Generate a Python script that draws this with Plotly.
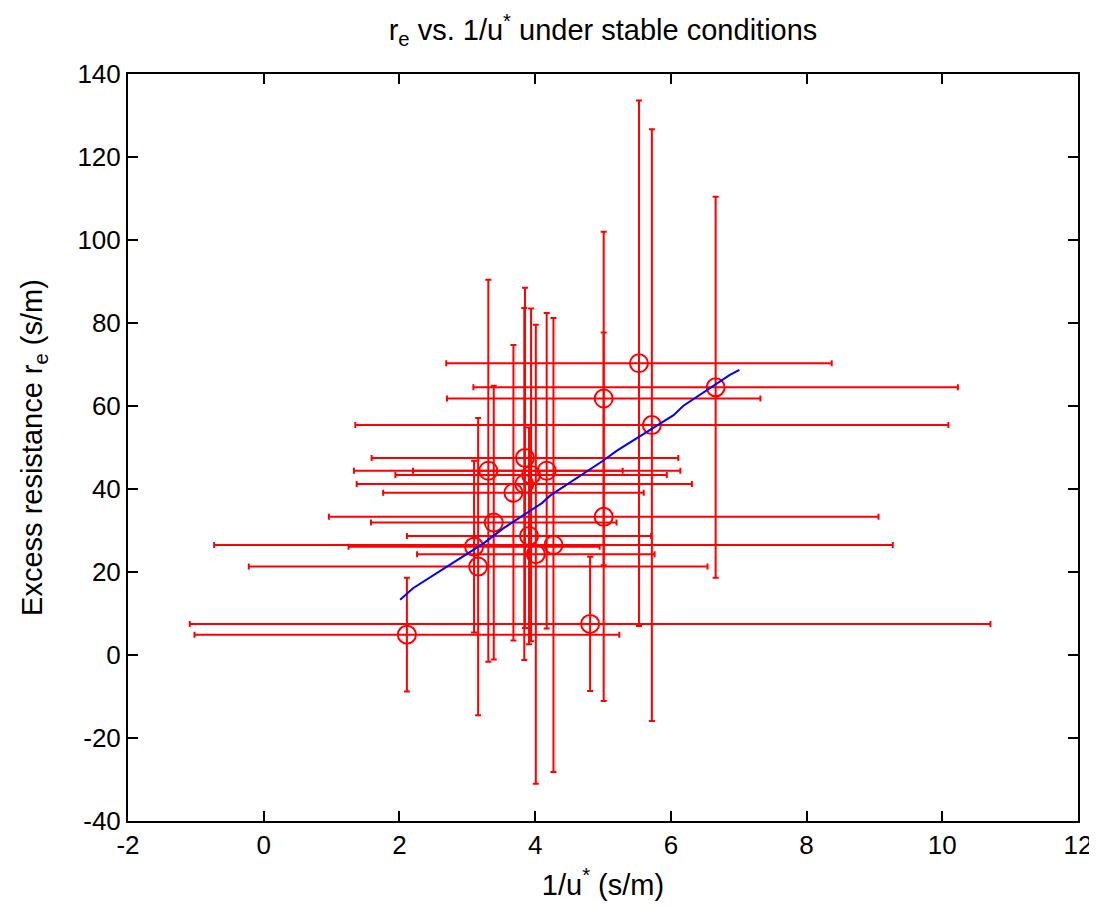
import plotly.graph_objects as go

# Data
inv_ustar = [5.53, 6.66, 5.01, 5.72, 3.85, 3.31, 4.17, 3.94, 3.84, 3.68,
             5.01, 3.39, 3.91, 4.27, 3.10, 4.01, 3.16, 4.81, 2.11]
r_e = [70.3, 64.5, 61.8, 55.4, 47.5, 44.4, 44.4, 43.4, 41.2, 39.1,
       33.3, 31.9, 28.7, 26.5, 26.1, 24.3, 21.3, 7.5, 4.9]
inv_ustar_err = [2.84, 3.57, 2.31, 4.37, 2.26, 1.98, 1.97, 2.00, 2.47, 1.92,
                 4.05, 1.81, 1.80, 5.00, 1.85, 1.75, 3.38, 5.90, 3.13]
r_e_err = [63.3, 45.9, 40.2, 71.3, 41.0, 46.0, 38.0, 40.1, 42.4, 35.6,
           44.4, 33.0, 26.1, 54.7, 20.7, 55.3, 35.8, 16.2, 13.7]

# Fitted curve (blue)
fit_x = [2.01, 2.20, 2.70, 2.94, 3.24, 3.53, 4.10, 4.22, 5.00, 5.20,
         5.72, 6.04, 6.18, 6.66, 6.87, 7.01]
fit_y = [13.3, 16.1, 21.3, 23.7, 26.9, 30.5, 36.6, 38.4, 46.8, 49.2,
         54.6, 57.8, 60.0, 65.1, 67.5, 68.7]

x_ticks = [-2, 0, 2, 4, 6, 8, 10, 12]
y_ticks = [-40, -20, 0, 20, 40, 60, 80, 100, 120, 140]

FONT = "Liberation Sans, Arial, sans-serif"
TICK_FS = 26
LABEL_FS = 29

W, H = 1089, 901

fig = go.Figure()
fig.add_trace(go.Scatter(
    x=inv_ustar, y=r_e, mode="markers",
    marker=dict(symbol="circle-open", size=18, color="red", line=dict(width=2, color="red")),
    error_x=dict(type="data", array=inv_ustar_err, symmetric=True, color="red", thickness=2, width=3),
    error_y=dict(type="data", array=r_e_err, symmetric=True, color="red", thickness=2, width=3),
    showlegend=False,
    cliponaxis=False,
))
fig.add_trace(go.Scatter(
    x=fit_x, y=fit_y, mode="lines",
    line=dict(color="blue", width=2),
    showlegend=False,
))

axis_common = dict(
    showline=True, linecolor="black", linewidth=2, mirror="ticks",
    ticks="inside", ticklen=10, tickwidth=2, tickcolor="black",
    showgrid=False, zeroline=False, automargin=False,
    tickfont=dict(family=FONT, size=TICK_FS, color="black"),
)

fig.update_layout(
    width=W, height=H,
    paper_bgcolor="white", plot_bgcolor="white",
    margin=dict(l=120, r=19, t=66, b=88),
    font=dict(family=FONT, size=LABEL_FS, color="black"),
    title=dict(
        text="r<sub>e</sub> vs. 1/u<sup>*</sup> under stable conditions",
        x=0.5, xref="paper", xanchor="center",
        y=1 - 22 / H, yref="container", yanchor="middle",
        font=dict(family=FONT, size=LABEL_FS, color="black"),
    ),
    xaxis=dict(
        range=[-2, 12], tickvals=x_ticks, ticktext=[str(v) for v in x_ticks],
        title=dict(text="1/u<sup>*</sup> (s/m)", standoff=15,
                   font=dict(family=FONT, size=LABEL_FS, color="black")),
        **axis_common,
    ),
    yaxis=dict(
        range=[-40, 140], tickvals=y_ticks, ticktext=[str(v) for v in y_ticks],
        title=dict(text="Excess resistance r<sub>e</sub> (s/m)", standoff=26,
                   font=dict(family=FONT, size=LABEL_FS, color="black")),
        **axis_common,
    ),
)

fig.write_html("out.html")
